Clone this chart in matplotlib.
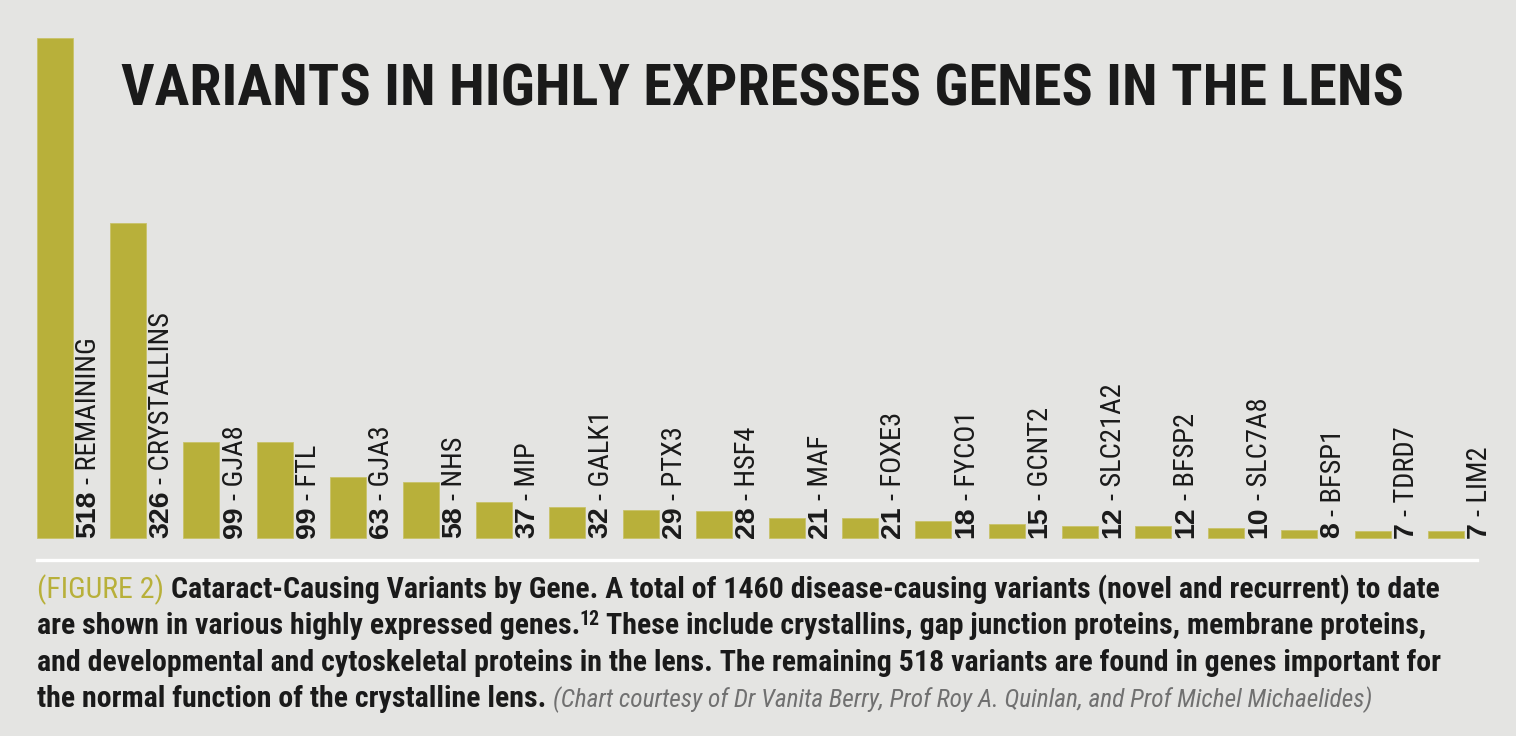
import matplotlib
matplotlib.use('Agg')
import matplotlib.pyplot as plt
from matplotlib import font_manager as fm
from matplotlib.lines import Line2D

# data
genes = ['REMAINING', 'CRYSTALLINS', 'GJA8', 'FTL', 'GJA3', 'NHS', 'MIP', 'GALK1',
         'PTX3', 'HSF4', 'MAF', 'FOXE3', 'FYCO1', 'GCNT2', 'SLC21A2', 'BFSP2',
         'SLC7A8', 'BFSP1', 'TDRD7', 'LIM2']
counts = [518, 326, 99, 99, 63, 58, 37, 32, 29, 28, 21, 21, 18, 15, 12, 12, 10, 8, 7, 7]

title = 'VARIANTS IN HIGHLY EXPRESSES GENES IN THE LENS'
fig_label = '(FIGURE 2)'
caption_lines = [
    ['Cataract-Causing Variants by Gene. A total of 1460 disease-causing variants (novel and recurrent) to date'],
    ['are shown in various highly expressed genes.', '12', 'These include crystallins, gap junction proteins, membrane proteins,'],
    ['and developmental and cytoskeletal proteins in the lens. The remaining 518 variants are found in genes important for'],
    ['the normal function of the crystalline lens.', '(Chart courtesy of Dr Vanita Berry, Prof Roy A. Quinlan, and Prof Michel Michaelides)'],
]

BG = '#e4e4e2'
OLIVE = '#b8b03a'
INK = '#1a1a1a'
GREY = '#707070'


def weight_num(w):
    if isinstance(w, (int, float)):
        return w
    return {'ultralight': 200, 'light': 300, 'normal': 400, 'regular': 400, 'book': 400,
            'medium': 500, 'semibold': 600, 'demibold': 600, 'bold': 700,
            'heavy': 800, 'extra bold': 800, 'black': 900}.get(str(w).lower(), 400)


def condensed_face(bold=False, italic=False):
    """Find a narrow/condensed font file; fall back to DejaVu Sans."""
    prefs = ['Liberation Sans Narrow', 'Roboto Condensed', 'Noto Sans Condensed',
             'Open Sans Condensed', 'DejaVu Sans']
    entries = [e for e in fm.fontManager.ttflist
               if ('condensed' in str(e.stretch).lower() or 'narrow' in e.name.lower()
                   or 'condensed' in e.name.lower() or 'Narrow' in e.fname
                   or 'Condensed' in e.fname)]
    want_w = 700 if bold else 400

    def score(e):
        it = e.style in ('italic', 'oblique')
        s = abs(weight_num(e.weight) - want_w) + (0 if it == italic else 1000)
        s += 0 if 'Semi' not in e.fname and 'Extra' not in e.fname else 150
        return s

    for p in prefs:
        group = [e for e in entries if e.name.lower().startswith(p.lower().split()[0])]
        if group:
            best = min(group, key=score)
            return fm.FontProperties(fname=best.fname)
    return fm.FontProperties(family='DejaVu Sans', weight='bold' if bold else 'normal',
                             style='italic' if italic else 'normal')


NB = condensed_face(bold=True)
NR = condensed_face()
NI = condensed_face(italic=True)
SB = fm.FontProperties(family=['Liberation Sans', 'DejaVu Sans'], weight='bold')

W, H = 1516, 736
fig = plt.figure(figsize=(W / 100, H / 100), dpi=100, facecolor=BG)
renderer = fig.canvas.get_renderer()


def fp(base, size):
    f = base.copy()
    f.set_size(size)
    return f


def width_of(s, prop):
    t = fig.text(0, 0, s, fontproperties=prop)
    w = t.get_window_extent(renderer).width
    t.remove()
    return w


def fit(s, base, target, size0, lo, hi):
    w = width_of(s, fp(base, size0))
    return max(lo, min(hi, size0 * target / w))


# axes placed so bar pitch is ~73 px and baseline sits at y=538 from top
ymax = 540
ax = fig.add_axes([18.4 / W, 198 / H, 1464 / W, (ymax * 500 / 518) / H])
ax.set_facecolor(BG)
ax.set_xlim(-0.5, len(genes) - 0.5)
ax.set_ylim(0, ymax)
ax.axis('off')

bw = 0.49
ax.bar(range(len(genes)), counts, width=bw, color=OLIVE, edgecolor='#c9c36a',
       linewidth=0.6, clip_on=False)

# bar labels: bold number, then the gene name in a narrow face
lab = 20.5
for i, (g, v) in enumerate(zip(genes, counts)):
    num = ax.text(i + bw / 2 + 0.03, 0, str(v), rotation=90, ha='left', va='bottom',
                  fontproperties=fp(SB, lab), color=INK)
    ax.annotate('- ' + g, xy=(0, 1), xycoords=num, xytext=(0, 4.5),
                textcoords='offset points', rotation=90, ha='left', va='bottom',
                fontproperties=fp(NR, lab), color=INK)

# title
tsize = fit(title, NB, 1281, 43, 30, 46)
fig.text(121 / W, 1 - 106 / H, title, fontproperties=fp(NB, tsize), color=INK,
         ha='left', va='baseline')

# white rule under the bars
fig.add_artist(Line2D([37 / W, 1477 / W], [1 - 559.5 / H, 1 - 559.5 / H],
                      color='white', linewidth=2.4, transform=fig.transFigure))

# caption, written run by run
cs = fit(fig_label + ' ' + caption_lines[0][0], NB, 1406, 19, 12, 22)
bold = fp(NB, cs)
sp = width_of('n n', bold) - width_of('nn', bold)


def run(x, y, s, prop, color=INK):
    t = fig.text(x / W, 1 - y / H, s, ha='left', va='baseline', fontproperties=prop,
                 color=color)
    return t.get_window_extent(renderer).x1


baselines = [598, 634.3, 670.6, 707]

x = run(37, baselines[0], fig_label, fp(NR, cs), OLIVE)
run(x + sp, baselines[0], caption_lines[0][0], bold)

x = run(37, baselines[1], caption_lines[1][0], bold)
x = run(x - 1, baselines[1] - 9, caption_lines[1][1], fp(NB, cs * 0.66))
run(x + sp, baselines[1], caption_lines[1][2], bold)

run(37, baselines[2], caption_lines[2][0], bold)

x = run(37, baselines[3], caption_lines[3][0], bold)
run(x + sp, baselines[3], caption_lines[3][1], fp(NI, cs * 0.85), GREY)

fig.savefig('out.png', dpi=100, facecolor=BG)
